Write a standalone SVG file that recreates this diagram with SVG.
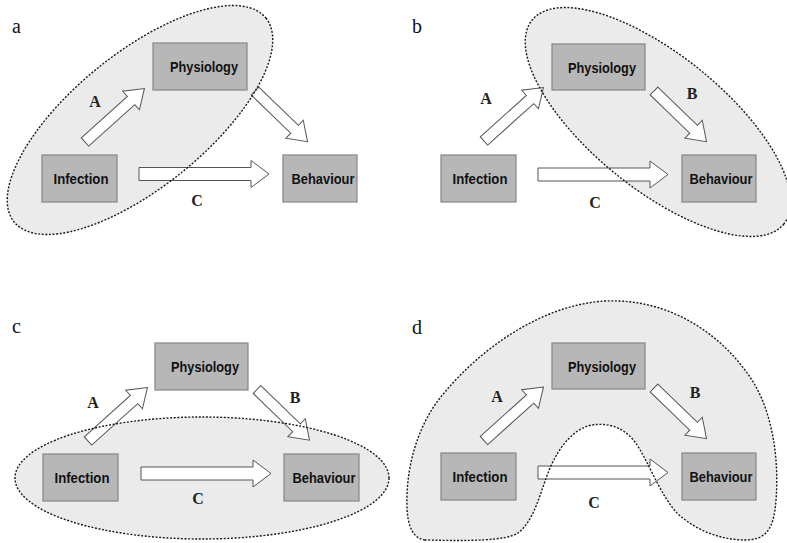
<svg xmlns="http://www.w3.org/2000/svg" xmlns:xlink="http://www.w3.org/1999/xlink" width="787" height="543" viewBox="0 0 787 543">
<style>
.region{fill:#ebebeb;stroke:none}
.outline{fill:none;stroke:#1a1a1a;stroke-width:1.4;stroke-dasharray:2 1.6}
.box{fill:#b7b7b7;stroke:#858585;stroke-width:1.2}
.bt{font-family:"Liberation Sans",Arial,sans-serif;font-weight:bold;font-size:15.5px;fill:#111;text-anchor:middle}
.arr{fill:#fff;stroke:#555;stroke-width:1}
.lab{font-family:"Liberation Serif","Times New Roman",serif;font-weight:bold;font-size:16px;fill:#222;text-anchor:middle}
.pl{font-family:"Liberation Serif","Times New Roman",serif;font-size:20px;fill:#111}
</style>
<defs>
<path id="arrH" d="M0,-6.5 H112 V-13.5 L130,0 L112,13.5 V6.5 H0 Z"/>
<path id="arrUp" d="M0,-5.5 H62 V-12.5 L80,0 L62,12.5 V5.5 H0 Z"/>
<path id="arrDn" d="M0,-5.5 H55 V-12.5 L73,0 L55,12.5 V5.5 H0 Z"/>
</defs>
<rect width="787" height="543" fill="#fff"/>

<g id="regions">
<ellipse class="region" cx="140" cy="120" rx="162" ry="67" transform="rotate(-39 140 120)"/>
<ellipse class="region" cx="658" cy="122" rx="162" ry="67" transform="rotate(39 658 122)"/>
<ellipse class="region" cx="202" cy="478" rx="187" ry="61"/>
<path id="shapeD" class="region" d="M425,540 C410,538 406,520 407,495 C408,460 420,420 445,392 C480,350 540,305 605,301 C670,298 725,335 755,385 C775,420 780,470 775,510 C772,530 765,540 745,540 C720,540 695,530 677,513 C660,495 648,460 635,442 C622,425 605,423 592,425 C575,428 560,445 550,468 C540,492 535,520 518,533 C505,541 470,541 425,540 Z"/>
</g>

<g id="connectors" class="arr">
<use xlink:href="#arrUp" class="arr" transform="translate(85 142) rotate(-42)"/>
<use xlink:href="#arrDn" class="arr" transform="translate(255 91) rotate(44)"/>
<use xlink:href="#arrH" class="arr" transform="translate(139 174)"/>

<use xlink:href="#arrUp" class="arr" transform="translate(484 141) rotate(-42)"/>
<use xlink:href="#arrDn" class="arr" transform="translate(654 91) rotate(44)"/>
<use xlink:href="#arrH" class="arr" transform="translate(538 174.5)"/>

<use xlink:href="#arrUp" class="arr" transform="translate(88 441) rotate(-42)"/>
<use xlink:href="#arrDn" class="arr" transform="translate(257 389.5) rotate(44)"/>
<use xlink:href="#arrH" class="arr" transform="translate(141 473.5)"/>

<use xlink:href="#arrUp" class="arr" transform="translate(484 440.5) rotate(-42)"/>
<use xlink:href="#arrDn" class="arr" transform="translate(654 388) rotate(44)"/>
<use xlink:href="#arrH" class="arr" transform="translate(538 472.5)"/>
</g>

<g id="a-physiology"><rect class="box" x="153" y="43" width="94" height="47"/><text class="bt" x="204" y="72" textLength="68" lengthAdjust="spacingAndGlyphs">Physiology</text></g>
<g id="a-infection"><rect class="box" x="42" y="155" width="75" height="47"/><text class="bt" x="81" y="184" textLength="55" lengthAdjust="spacingAndGlyphs">Infection</text></g>
<g id="a-behaviour"><rect class="box" x="283" y="155" width="74" height="47"/><text class="bt" x="323" y="184" textLength="63" lengthAdjust="spacingAndGlyphs">Behaviour</text></g>

<g id="b-physiology"><rect class="box" x="552" y="44" width="93" height="46"/><text class="bt" x="602" y="73" textLength="68" lengthAdjust="spacingAndGlyphs">Physiology</text></g>
<g id="b-infection"><rect class="box" x="441" y="155" width="75" height="47"/><text class="bt" x="480" y="184" textLength="55" lengthAdjust="spacingAndGlyphs">Infection</text></g>
<g id="b-behaviour"><rect class="box" x="682" y="155" width="74" height="47"/><text class="bt" x="721" y="184" textLength="63" lengthAdjust="spacingAndGlyphs">Behaviour</text></g>

<g id="c-physiology"><rect class="box" x="155" y="343" width="93" height="47"/><text class="bt" x="205" y="372" textLength="68" lengthAdjust="spacingAndGlyphs">Physiology</text></g>
<g id="c-infection"><rect class="box" x="43" y="454" width="75" height="47"/><text class="bt" x="82" y="483" textLength="55" lengthAdjust="spacingAndGlyphs">Infection</text></g>
<g id="c-behaviour"><rect class="box" x="284" y="454" width="75" height="47"/><text class="bt" x="324" y="483" textLength="63" lengthAdjust="spacingAndGlyphs">Behaviour</text></g>

<g id="d-physiology"><rect class="box" x="552" y="343" width="93" height="46"/><text class="bt" x="602" y="372" textLength="68" lengthAdjust="spacingAndGlyphs">Physiology</text></g>
<g id="d-infection"><rect class="box" x="441" y="453" width="75" height="47"/><text class="bt" x="480" y="482" textLength="55" lengthAdjust="spacingAndGlyphs">Infection</text></g>
<g id="d-behaviour"><rect class="box" x="682" y="453" width="74" height="47"/><text class="bt" x="721" y="482" textLength="63" lengthAdjust="spacingAndGlyphs">Behaviour</text></g>

<g id="outlines">
<ellipse class="outline" cx="140" cy="120" rx="162" ry="67" transform="rotate(-39 140 120)"/>
<ellipse class="outline" cx="658" cy="122" rx="162" ry="67" transform="rotate(39 658 122)"/>
<ellipse class="outline" cx="202" cy="478" rx="187" ry="61"/>
<path class="outline" d="M425,540 C410,538 406,520 407,495 C408,460 420,420 445,392 C480,350 540,305 605,301 C670,298 725,335 755,385 C775,420 780,470 775,510 C772,530 765,540 745,540 C720,540 695,530 677,513 C660,495 648,460 635,442 C622,425 605,423 592,425 C575,428 560,445 550,468 C540,492 535,520 518,533 C505,541 470,541 425,540 Z"/>
</g>

<g id="labels">
<text class="lab" x="95" y="107">A</text>
<text class="lab" x="197" y="206">C</text>
<text class="lab" x="486" y="104">A</text>
<text class="lab" x="692" y="99">B</text>
<text class="lab" x="595" y="208">C</text>
<text class="lab" x="93" y="408">A</text>
<text class="lab" x="295" y="403">B</text>
<text class="lab" x="198" y="504">C</text>
<text class="lab" x="497" y="402">A</text>
<text class="lab" x="695" y="398">B</text>
<text class="lab" x="594" y="508">C</text>
</g>

<g id="panel-letters">
<text class="pl" x="12" y="33">a</text>
<text class="pl" x="412" y="33">b</text>
<text class="pl" x="12" y="333">c</text>
<text class="pl" x="412" y="334">d</text>
</g>
</svg>
